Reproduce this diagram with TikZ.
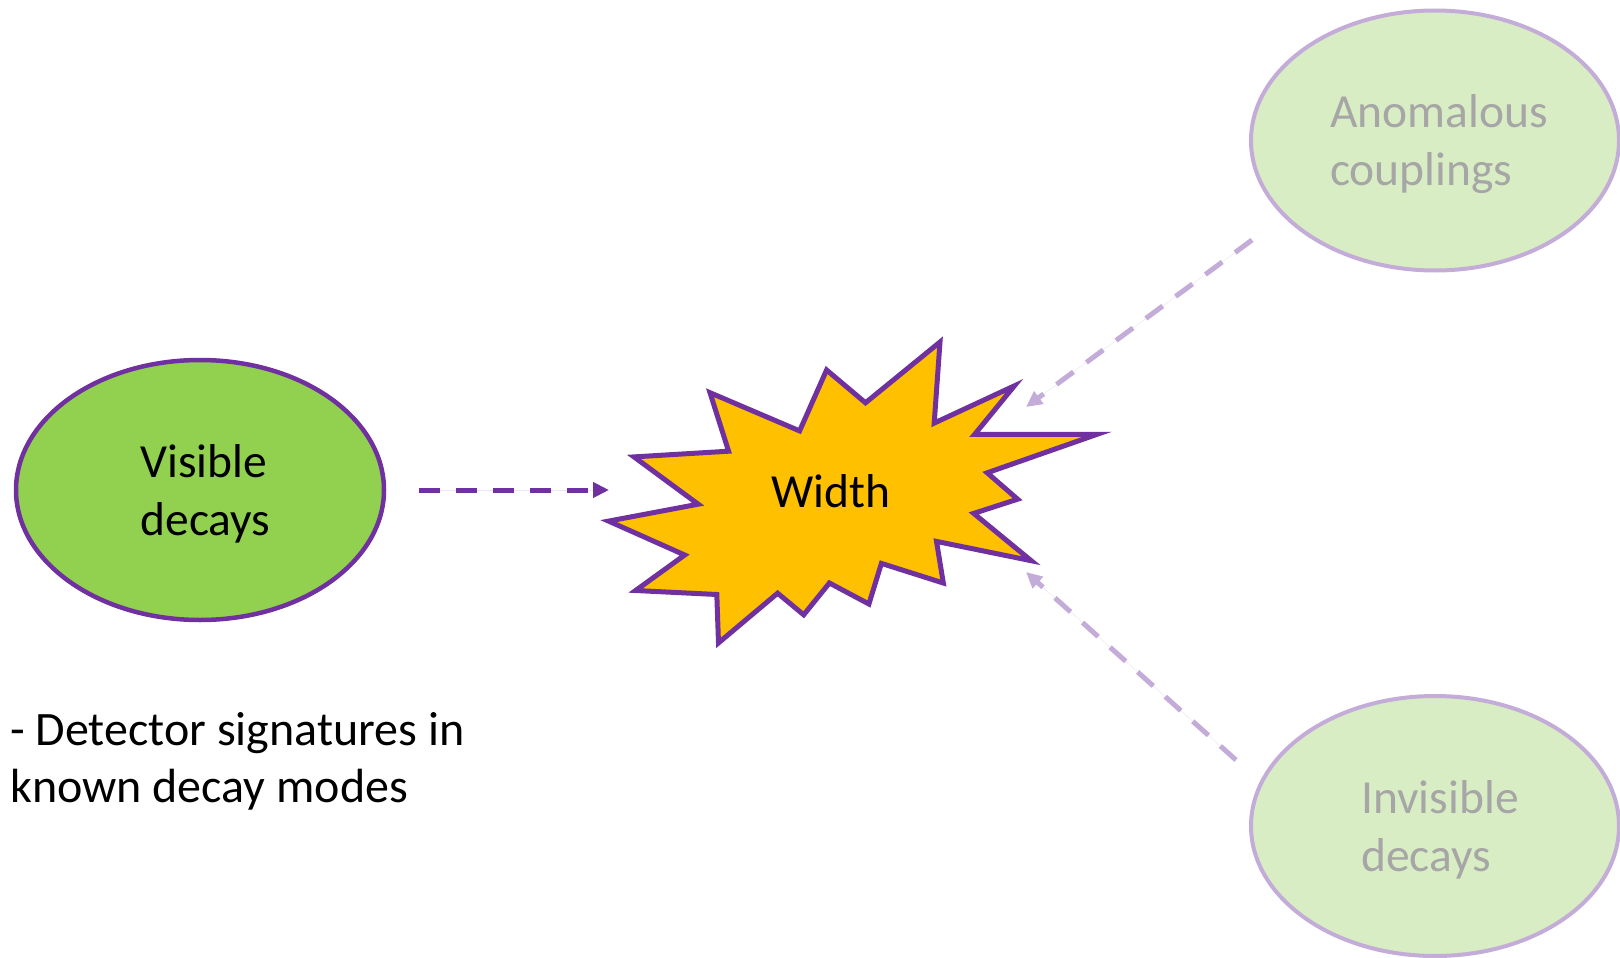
\documentclass[tikz,border=0pt]{standalone}
\usepackage{fontspec}
\setmainfont{Carlito}
\usetikzlibrary{shapes.geometric,arrows.meta}
\definecolor{ofpurple}{HTML}{7030A0}
\definecolor{ofgreen}{HTML}{92D050}
\definecolor{ofgold}{HTML}{FFC000}
\definecolor{palegreen}{HTML}{D9EDC4}
\definecolor{palepurple}{HTML}{C4ACD8}
\definecolor{palegrey}{HTML}{A6A6A6}
\tikzset{
  bigtext/.style={font=\fontsize{47.5}{58}\selectfont, align=left, inner sep=0pt},
  blob/.style={ellipse, inner sep=0pt, minimum width=368pt, minimum height=260pt},
  mainblob/.style={blob, draw=ofpurple, line width=4.5pt, fill=ofgreen},
  fadedblob/.style={blob, draw=palepurple, line width=4pt, fill=palegreen},
  fadedtext/.style={bigtext, text=palegrey},
  flow/.style={line width=5pt, dash pattern=on 21pt off 16pt, -{Triangle[length=16pt,width=15pt]}},
  mainflow/.style={flow, draw=ofpurple, fill=ofpurple},
  fadedflow/.style={flow, draw=palepurple, fill=palepurple}
}
\begin{document}
\begin{tikzpicture}[x=1pt,y=-1pt]
\useasboundingbox (0,0) rectangle (1620,958);

% explosion outline around the central label
\draw[line width=5pt, draw=ofpurple, fill=ofgold, line join=miter, miter limit=20]
  (940,342) -- (934.2,423.1) -- (1014.3,385.9) -- (974.7,434.3) -- (1097.1,434.3)
  -- (987.2,472.8) -- (1017.6,499.2) -- (973.7,513.4) -- (1031.2,560.7)
  -- (936.5,541.4) -- (943.3,583.0) -- (881.4,563.4) -- (868.9,604.0)
  -- (829.4,583.0) -- (803.7,614.8) -- (777.6,593.2) -- (718.5,642.9)
  -- (716.8,594.5) -- (635.6,590.5) -- (684.7,555.0) -- (608.6,521.1)
  -- (698.2,504.2) -- (634.0,456.9) -- (728.6,451.2) -- (710.0,392.7)
  -- (799.6,430.9) -- (826.6,370.0) -- (865.5,402.8) -- cycle;
\node[bigtext] (width) at (831,491) {Width};

% source ellipses and their labels
\node[mainblob] (vis) at (200,490) {};
\node[bigtext] (vislabel) at (205.5,494) {Visible\\decays};
\node[fadedblob] (ano) at (1435,140.5) {};
\node[fadedtext] (anolabel) at (1439,144.5) {Anomalous\\couplings};
\node[fadedblob] (inv) at (1435,826) {};
\node[fadedtext] (invlabel) at (1440,830) {Invisible\\decays};

% connector end points
\coordinate (visin) at (609,490);
\coordinate (anoout) at (1252,240);
\coordinate (anoin) at (1026,407);
\coordinate (invout) at (1236,760);
\coordinate (invin) at (1026,572);

\draw[mainflow, shorten <=33pt] (vis.east) -- (visin);
\draw[fadedflow] (anoout) -- (anoin);
\draw[fadedflow] (invout) -- (invin);

% note below the left ellipse
\node[font=\fontsize{48}{57}\selectfont, align=left, anchor=west, inner sep=0pt] (note) at (10,761)
  {- Detector signatures in\\known decay modes};
\end{tikzpicture}
\end{document}
